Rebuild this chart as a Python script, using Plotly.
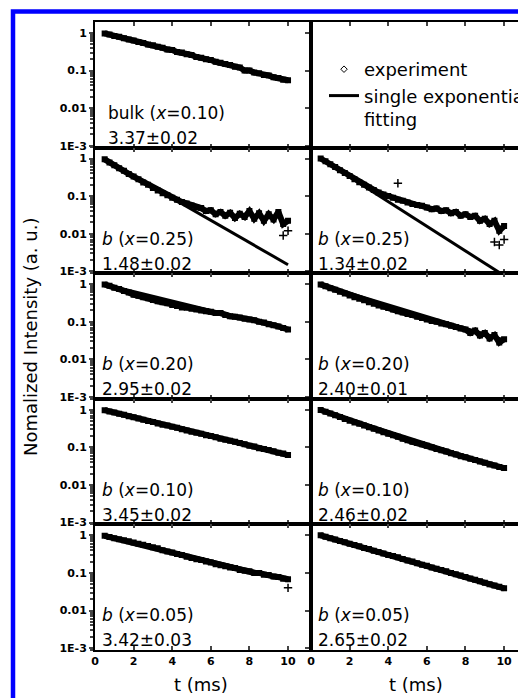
import plotly.graph_objects as go
from plotly.subplots import make_subplots

# time base of the decay curves (ms)
t_ms = [0.5, 0.75, 1.0, 1.25, 1.5, 1.75, 2.0, 2.25, 2.5, 2.75,
        3.0, 3.25, 3.5, 3.75, 4.0, 4.25, 4.5, 4.75, 5.0, 5.25,
        5.5, 5.75, 6.0, 6.25, 6.5, 6.75, 7.0, 7.25, 7.5, 7.75,
        8.0, 8.25, 8.5, 8.75, 9.0, 9.25, 9.5, 9.75, 10.0]

# normalized intensity
bulk_010 = [0.97, 0.91, 0.83, 0.79, 0.72, 0.67, 0.63, 0.57, 0.54, 0.49,
            0.47, 0.43, 0.40, 0.36, 0.35, 0.31, 0.30, 0.27, 0.26, 0.23,
            0.22, 0.20, 0.19, 0.17, 0.16, 0.15, 0.14, 0.125, 0.12, 0.10,
            0.10, 0.088, 0.085, 0.076, 0.074, 0.066, 0.063, 0.057, 0.055]
left_025 = [0.95, 0.78, 0.66, 0.55, 0.47, 0.39, 0.33, 0.28, 0.23, 0.20,
            0.165, 0.14, 0.12, 0.105, 0.09, 0.08, 0.07, 0.064, 0.056, 0.05,
            0.048, 0.04, 0.042, 0.033, 0.038, 0.03, 0.036, 0.026, 0.034, 0.028,
            0.04, 0.025, 0.035, 0.022, 0.033, 0.024, 0.038, 0.018, 0.022]
right_025 = [1.0, 0.84, 0.70, 0.59, 0.49, 0.41, 0.34, 0.28, 0.235, 0.20,
             0.17, 0.145, 0.125, 0.11, 0.10, 0.09, 0.08, 0.075, 0.068, 0.062,
             0.058, 0.055, 0.05, 0.045, 0.047, 0.04, 0.042, 0.035, 0.038, 0.03,
             0.033, 0.028, 0.03, 0.022, 0.025, 0.018, 0.022, 0.012, 0.016]
left_020 = [0.98, 0.90, 0.80, 0.74, 0.66, 0.60, 0.52, 0.49, 0.45, 0.42,
            0.38, 0.35, 0.33, 0.31, 0.28, 0.26, 0.24, 0.235, 0.22, 0.21,
            0.20, 0.19, 0.185, 0.17, 0.17, 0.15, 0.14, 0.135, 0.13, 0.12,
            0.115, 0.11, 0.10, 0.095, 0.085, 0.08, 0.075, 0.068, 0.062]
right_020 = [0.98, 0.88, 0.78, 0.71, 0.63, 0.56, 0.50, 0.45, 0.41, 0.37,
             0.33, 0.30, 0.27, 0.25, 0.23, 0.21, 0.19, 0.175, 0.16, 0.15,
             0.135, 0.125, 0.115, 0.105, 0.10, 0.09, 0.085, 0.078, 0.072, 0.066,
             0.062, 0.05, 0.058, 0.043, 0.05, 0.036, 0.044, 0.028, 0.034]
left_010 = [0.97, 0.90, 0.84, 0.78, 0.73, 0.67, 0.63, 0.58, 0.54, 0.50,
            0.47, 0.43, 0.40, 0.38, 0.35, 0.33, 0.30, 0.28, 0.26, 0.245,
            0.23, 0.21, 0.20, 0.185, 0.17, 0.16, 0.15, 0.14, 0.13, 0.12,
            0.11, 0.105, 0.095, 0.09, 0.085, 0.078, 0.072, 0.068, 0.062]
right_010 = [0.98, 0.88, 0.79, 0.71, 0.64, 0.57, 0.51, 0.46, 0.42, 0.38,
             0.34, 0.31, 0.28, 0.25, 0.23, 0.21, 0.19, 0.17, 0.155, 0.14,
             0.13, 0.12, 0.11, 0.10, 0.09, 0.083, 0.077, 0.07, 0.064, 0.058,
             0.054, 0.05, 0.046, 0.042, 0.039, 0.035, 0.033, 0.03, 0.028]
left_005 = [0.97, 0.90, 0.84, 0.79, 0.74, 0.69, 0.64, 0.60, 0.56, 0.52,
            0.48, 0.45, 0.40, 0.37, 0.35, 0.32, 0.30, 0.27, 0.25, 0.23,
            0.22, 0.20, 0.19, 0.17, 0.16, 0.15, 0.14, 0.135, 0.12, 0.115,
            0.11, 0.10, 0.10, 0.09, 0.088, 0.08, 0.078, 0.07, 0.068]
right_005 = [1.0, 0.92, 0.84, 0.77, 0.71, 0.65, 0.60, 0.55, 0.51, 0.46,
             0.43, 0.39, 0.36, 0.33, 0.30, 0.28, 0.26, 0.235, 0.215, 0.20,
             0.18, 0.165, 0.155, 0.14, 0.13, 0.12, 0.11, 0.10, 0.092, 0.085,
             0.078, 0.071, 0.066, 0.06, 0.055, 0.05, 0.046, 0.043, 0.039]

# single exponential fits (start / end of line)
fit_t = [0.5, 10.0]
fit_bulk_010 = [0.97, 0.055]
fit_left_025 = [0.95, 0.0015]
fit_right_025 = [1.0, 0.00077]
fit_left_020 = [0.98, 0.062]
fit_right_020 = [0.98, 0.033]
fit_left_010 = [0.97, 0.062]
fit_right_010 = [0.98, 0.028]
fit_left_005 = [0.97, 0.068]
fit_right_005 = [1.0, 0.039]

# stray points in the noisy tails
out_left_025_t = [9.75, 10.0]
out_left_025 = [0.009, 0.012]
out_right_025_t = [4.5, 9.5, 9.75, 10.0]
out_right_025 = [0.22, 0.006, 0.005, 0.007]
out_left_005_t = [10.0]
out_left_005 = [0.04]

labels = [
    ["bulk (<i>x</i>=0.10)", "3.37±0.02"], None,
    ["<i>b</i> (<i>x</i>=0.25)", "1.48±0.02"], ["<i>b</i> (<i>x</i>=0.25)", "1.34±0.02"],
    ["<i>b</i> (<i>x</i>=0.20)", "2.95±0.02"], ["<i>b</i> (<i>x</i>=0.20)", "2.40±0.01"],
    ["<i>b</i> (<i>x</i>=0.10)", "3.45±0.02"], ["<i>b</i> (<i>x</i>=0.10)", "2.46±0.02"],
    ["<i>b</i> (<i>x</i>=0.05)", "3.42±0.03"], ["<i>b</i> (<i>x</i>=0.05)", "2.65±0.02"],
]

panels = [
    (1, 1, bulk_010, fit_bulk_010), None,
    (2, 1, left_025, fit_left_025), (2, 2, right_025, fit_right_025),
    (3, 1, left_020, fit_left_020), (3, 2, right_020, fit_right_020),
    (4, 1, left_010, fit_left_010), (4, 2, right_010, fit_right_010),
    (5, 1, left_005, fit_left_005), (5, 2, right_005, fit_right_005),
]
outliers = [
    (2, 1, out_left_025_t, out_left_025),
    (2, 2, out_right_025_t, out_right_025),
    (5, 1, out_left_005_t, out_left_005),
]

fig = make_subplots(rows=5, cols=2, horizontal_spacing=0, vertical_spacing=0,
                    column_widths=[216, 207])

for p in panels:
    if p is None:
        continue
    r, c, vals, fit = p
    fig.add_trace(go.Scatter(x=fit_t, y=fit, mode="lines",
                             line=dict(color="black", width=3),
                             showlegend=False, hoverinfo="skip"), row=r, col=c)
    fig.add_trace(go.Scatter(x=t_ms, y=vals, mode="lines+markers",
                             line=dict(color="black", width=6),
                             marker=dict(color="black", size=6, symbol="square"),
                             showlegend=False), row=r, col=c)

for r, c, tx, vy in outliers:
    fig.add_trace(go.Scatter(x=tx, y=vy, mode="markers",
                             marker=dict(color="black", size=6, symbol="cross-thin-open",
                                         line=dict(width=1.5, color="black")),
                             showlegend=False), row=r, col=c)

# legend entries
fig.add_trace(go.Scatter(x=[None], y=[None], mode="markers", name="experiment",
                         marker=dict(color="black", size=5, symbol="diamond-open",
                                     line=dict(width=1, color="black"))), row=1, col=2)
fig.add_trace(go.Scatter(x=[None], y=[None], mode="lines",
                         name="single exponential<br>fitting",
                         line=dict(color="black", width=3)), row=1, col=2)

tickfont = dict(family="DejaVu Sans", size=11, color="black", weight="bold")
for r in range(1, 6):
    for c in (1, 2):
        fig.update_xaxes(row=r, col=c, range=[0, 11.19] if c == 1 else [0, 10.72],
                         tick0=0, dtick=2, ticks="inside", ticklen=4, tickwidth=1.5,
                         showline=True, linewidth=2, linecolor="black", mirror="ticks",
                         showgrid=False, zeroline=False, tickfont=tickfont,
                         showticklabels=(r == 5))
        fig.update_yaxes(row=r, col=c, type="log", range=[-3.05, 0.29],
                         tickvals=[1, 0.1, 0.01, 0.001],
                         ticktext=["1", "0.1", "0.01", "1E-3"],
                         ticks="outside", ticklen=4, tickwidth=1.5,
                         minor=dict(ticks="outside", ticklen=3, dtick="D1") if c == 1 else None,
                         showline=True, linewidth=2, linecolor="black",
                         mirror=(c == 1), showgrid=False, zeroline=False,
                         tickfont=tickfont, showticklabels=(c == 1))

W, H = 518, 698
ml, mt, mb = 95, 22, 48
pw, ph = W - ml, H - mt - mb


def px(x):
    return (x - ml) / pw


def py(y):
    return 1 - (y - mt) / ph


row_h = ph / 5
txt = dict(family="DejaVu Sans", size=17, color="black")
for i, lab in enumerate(labels):
    if lab is None:
        continue
    r, c = divmod(i, 2)
    x0 = (106 if r == 0 else 100) if c == 0 else 316
    top = mt + r * row_h
    fig.add_annotation(x=px(x0), y=py(top + 91), xref="paper", yref="paper",
                       text=lab[0], showarrow=False, xanchor="left", yanchor="middle", font=txt)
    fig.add_annotation(x=px(x0), y=py(top + 116), xref="paper", yref="paper",
                       text=lab[1], showarrow=False, xanchor="left", yanchor="middle", font=txt)

fig.add_annotation(x=px(30), y=py(337), xref="paper", yref="paper", textangle=-90,
                   text="Nomalized Intensity (a. u.)", showarrow=False,
                   xanchor="center", yanchor="middle",
                   font=dict(family="DejaVu Sans", size=18, color="black"))
for xc in (201, 416):
    fig.add_annotation(x=px(xc), y=py(684), xref="paper", yref="paper",
                       text="t (ms)", showarrow=False, xanchor="center", yanchor="middle",
                       font=dict(family="DejaVu Sans", size=18, color="black"))

# blue frame around the figure
fig.add_shape(type="rect", xref="paper", yref="paper",
              x0=px(13), y0=py(740), x1=px(560), y1=py(11.5),
              line=dict(color="#0000ff", width=4.5), layer="above")

fig.update_layout(
    width=W, height=H,
    margin=dict(l=ml, r=0, t=mt, b=mb, autoexpand=False),
    paper_bgcolor="white", plot_bgcolor="white",
    font=dict(family="DejaVu Sans", color="black"),
    showlegend=True,
    legend=dict(x=px(324), y=py(51), xanchor="left", yanchor="top",
                bgcolor="rgba(0,0,0,0)", font=dict(family="DejaVu Sans", size=18, color="black"),
                valign="top", itemwidth=30, tracegroupgap=0),
)

fig.write_html("out.html", config={"displayModeBar": False},
               post_script="document.body.style.margin='0px';")
